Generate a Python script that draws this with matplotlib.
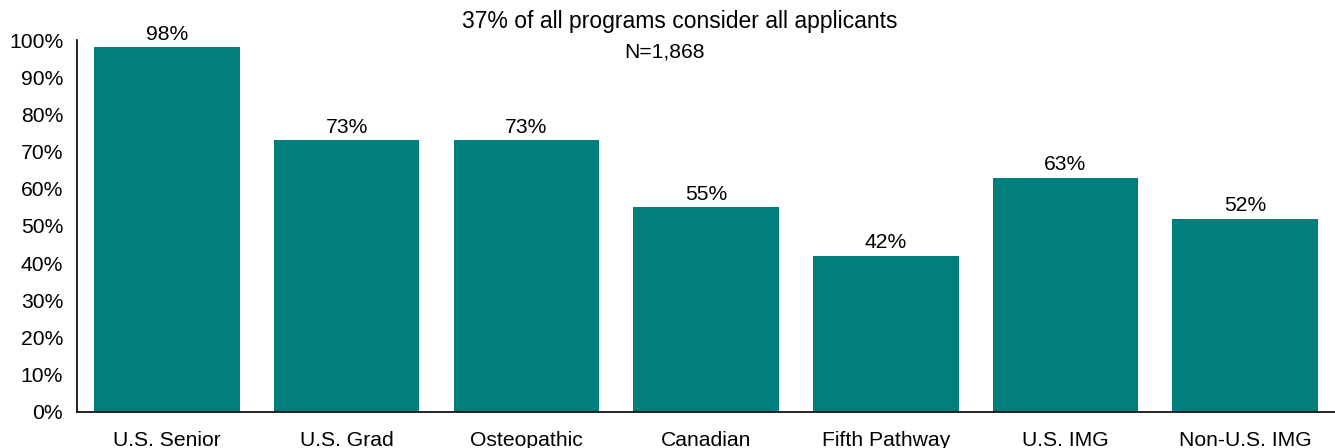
import matplotlib.pyplot as plt

categories = ["U.S. Senior", "U.S. Grad", "Osteopathic", "Canadian",
              "Fifth Pathway", "U.S. IMG", "Non-U.S. IMG"]
values = [98, 73, 73, 55, 42, 63, 52]
yticks = list(range(0, 101, 10))

plt.rcParams['font.family'] = ['Liberation Sans', 'DejaVu Sans']

fig = plt.figure(figsize=(13.35, 4.48), dpi=100)
ax = fig.add_axes([0.0577, 0.0804, 0.9423, 0.8303])

x = range(len(categories))
bars = ax.bar(x, values, width=0.81, color='#017f7f')

for xi, v in zip(x, values):
    ax.text(xi, v + 1.0, f"{v}%", ha='center', va='bottom', fontsize=15.2)

ax.set_xlim(-0.5, len(categories) - 0.5)
ax.set_ylim(0, 100)
ax.set_yticks(yticks)
ax.set_yticklabels([f"{t}%" for t in yticks], fontsize=15.2)
ax.set_xticks(list(x))
ax.set_xticklabels(categories, fontsize=15.2)
ax.tick_params(axis='both', length=0)
ax.tick_params(axis='x', pad=14)
ax.tick_params(axis='y', pad=10)

for side in ['top', 'right']:
    ax.spines[side].set_visible(False)
ax.spines['left'].set_linewidth(1.2)
ax.spines['bottom'].set_linewidth(1.2)

fig.text(0.509, 0.953, "37% of all programs consider all applicants",
         ha='center', va='center', fontsize=16.5)
fig.text(0.498, 0.883, "N=1,868", ha='center', va='center', fontsize=15.2)

fig.savefig("out.png", dpi=100)
